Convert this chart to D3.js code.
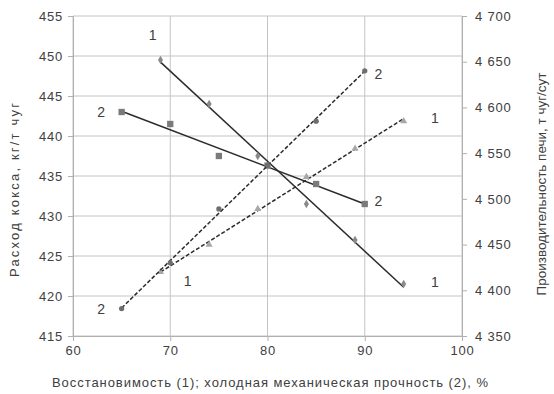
<!DOCTYPE html>
<html>
<head>
<meta charset="utf-8">
<script src="https://cdn.jsdelivr.net/npm/d3@7"></script>
<style>
  body { margin: 0; background: #fff; }
  text { font-family: "Liberation Sans", Arial, sans-serif; fill: #404040; }
</style>
</head>
<body>
<div id="chart"></div>
<script>
var W = 554, H = 394;

// Data
var recovX = [69, 74, 79, 84, 89, 94];            // восстановимость (1)
var strengthX = [65, 70, 75, 80, 85, 90];         // холодная прочность (2)
var cokeRecov = [449.5, 444, 437.5, 431.5, 427, 421.5];
var cokeStrength = [443, 441.5, 437.5, 436.3, 434, 431.5];
var prodRecov = [4420, 4450, 4489, 4524, 4555, 4585];
var prodStrength = [4380, 4430, 4489, 4537, 4585, 4640];

var xTicks = [60, 70, 80, 90, 100];
var yLeftTicks = [415, 420, 425, 430, 435, 440, 445, 450, 455];
var yRightTicks = [4350, 4400, 4450, 4500, 4550, 4600, 4650, 4700];

var m = { l: 73, r: 92, t: 16, b: 58 };

var x = d3.scaleLinear().domain([60, 100]).range([m.l, W - m.r]);
var yL = d3.scaleLinear().domain([415, 455]).range([H - m.b, m.t]);
var yR = d3.scaleLinear().domain([4350, 4700]).range([H - m.b, m.t]);

var svg = d3.select("#chart").append("svg")
    .attr("width", W)
    .attr("height", H);

// grid
svg.append("g").selectAll("line").data(yLeftTicks).enter().append("line")
    .attr("x1", m.l).attr("x2", W - m.r)
    .attr("y1", d => yL(d)).attr("y2", d => yL(d))
    .attr("stroke", "#c4c4c4").attr("stroke-width", 1);
svg.append("g").selectAll("line").data(xTicks).enter().append("line")
    .attr("x1", d => x(d)).attr("x2", d => x(d))
    .attr("y1", m.t).attr("y2", H - m.b)
    .attr("stroke", "#c4c4c4").attr("stroke-width", 1);

// axes
var axL = svg.append("g").attr("transform", "translate(" + m.l + ",0)")
    .call(d3.axisLeft(yL).tickValues(yLeftTicks).tickSize(5).tickPadding(5));
var axR = svg.append("g").attr("transform", "translate(" + (W - m.r) + ",0)")
    .call(d3.axisRight(yR).tickValues(yRightTicks).tickSize(5).tickPadding(8)
        .tickFormat(d => d3.format(",")(d).replace(",", " ")));
var axB = svg.append("g").attr("transform", "translate(0," + (H - m.b) + ")")
    .call(d3.axisBottom(x).tickValues(xTicks).tickSize(5).tickPadding(5));

[axL, axR, axB].forEach(function(a) {
    a.select(".domain").attr("stroke", "#b0b0b0");
    a.selectAll(".tick line").attr("stroke", "#b0b0b0");
    a.selectAll(".tick text").attr("font-size", "13px").attr("fill", "#404040")
        .style("letter-spacing", "0.8px")
        .style("font-family", "Liberation Sans, Arial, sans-serif");
});

// trend line (least squares)
function fit(xs, ys) {
    var mx = d3.mean(xs), my = d3.mean(ys);
    var sxy = d3.sum(xs, (v, i) => (v - mx) * (ys[i] - my));
    var sxx = d3.sum(xs, v => (v - mx) * (v - mx));
    var k = sxy / sxx;
    return function(v) { return my + k * (v - mx); };
}

function series(xs, ys, y, dashed, marker, color) {
    var f = fit(xs, ys);
    var ends = [xs[0], xs[xs.length - 1]];
    svg.append("line")
        .attr("x1", x(ends[0])).attr("y1", y(f(ends[0])))
        .attr("x2", x(ends[1])).attr("y2", y(f(ends[1])))
        .attr("stroke", "#2b2b2b").attr("stroke-width", 1.5)
        .attr("stroke-dasharray", dashed ? "4,2" : null);
    var sym = { diamond: d3.symbolDiamond, square: d3.symbolSquare,
                circle: d3.symbolCircle, triangle: d3.symbolTriangle }[marker];
    var size = marker == "square" ? 40 : 22;
    svg.append("g").selectAll("path").data(xs).enter().append("path")
        .attr("d", d3.symbol().type(sym).size(size))
        .attr("transform", (d, i) => "translate(" + x(d) + "," + y(ys[i]) + ")")
        .attr("fill", color);
}

series(recovX, cokeRecov, yL, false, "diamond", "#8a8a8a");
series(strengthX, cokeStrength, yL, false, "square", "#7a7a7a");
series(recovX, prodRecov, yR, true, "triangle", "#a8a8a8");
series(strengthX, prodStrength, yR, true, "circle", "#6e6e6e");

// series labels
var labels = [
    { t: "1", x: recovX[0] - 1.2, y: yL(cokeRecov[0]) - 20 },
    { t: "2", x: strengthX[0] - 2.5, y: yL(cokeStrength[0]) + 5 },
    { t: "2", x: strengthX[5] + 1.0, y: yR(prodStrength[5]) + 8 },
    { t: "1", x: recovX[5] + 2.8, y: yR(prodRecov[5]) + 2 },
    { t: "2", x: strengthX[5] + 1.0, y: yL(cokeStrength[5]) + 2 },
    { t: "1", x: recovX[5] + 2.8, y: yL(cokeRecov[5]) + 3 },
    { t: "1", x: recovX[0] + 2.4, y: yR(prodRecov[0]) + 14 },
    { t: "2", x: strengthX[0] - 2.5, y: yR(prodStrength[0]) + 5 }
];
svg.append("g").selectAll("text").data(labels).enter().append("text")
    .attr("x", d => x(d.x)).attr("y", d => d.y)
    .attr("font-size", "14px")
    .text(d => d.t);

// axis titles
svg.append("text")
    .attr("transform", "translate(19,190) rotate(-90)")
    .attr("text-anchor", "middle").attr("font-size", "13px")
    .attr("textLength", 174).attr("lengthAdjust", "spacing")
    .text("Расход кокса, кг/т чуг");
svg.append("text")
    .attr("transform", "translate(546,184) rotate(-90)")
    .attr("text-anchor", "middle").attr("font-size", "12.5px")
    .attr("textLength", 223).attr("lengthAdjust", "spacingAndGlyphs")
    .text("Производительность печи, т чуг/сут");
svg.append("text")
    .attr("x", 270).attr("y", 387)
    .attr("text-anchor", "middle").attr("font-size", "13px")
    .attr("textLength", 436).attr("lengthAdjust", "spacing")
    .text("Восстановимость (1); холодная механическая прочность (2), %");
</script>
</body>
</html>
